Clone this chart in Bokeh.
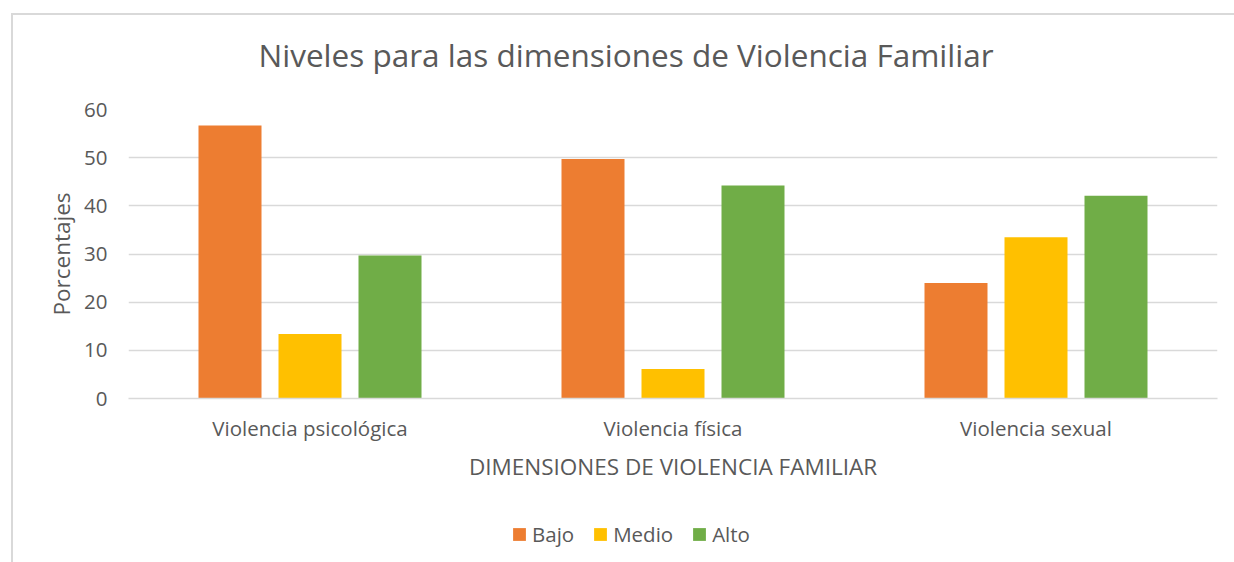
from bokeh.plotting import figure
from bokeh.layouts import column
from bokeh.models import FactorRange, Legend, LegendItem, FixedTicker, Label
from bokeh.transform import dodge
from bokeh.embed import file_html
from bokeh.resources import INLINE

categories = ["Violencia psicológica", "Violencia física", "Violencia sexual"]
series = ["Bajo", "Medio", "Alto"]
bajo = [56.7, 49.7, 24.0]
medio = [13.4, 6.1, 33.5]
alto = [29.7, 44.2, 42.1]
colors = ["#ED7D31", "#FFC000", "#70AD47"]
y_ticks = [0, 10, 20, 30, 40, 50, 60]
title_text = "Niveles para las dimensiones de Violencia Familiar"

FONT = "Open Sans"
TXT = "#595959"
GRID = "#d9d9d9"
W = 1221

# title strip (frame aligned with the chart's frame; x range in page pixels)
tf = figure(x_range=(128, 1217), y_range=(0, 80), width=W, height=80,
            output_backend="svg", toolbar_location=None,
            x_axis_location=None, y_axis_location=None, min_border=0)
tf.grid.visible = False
tf.outline_line_color = None
tf.add_layout(Label(x=258, y=41, text=title_text, text_font=FONT, text_font_size="31.5px",
                    text_color=TXT, text_align="left", text_baseline="middle"))

# main chart
p = figure(x_range=FactorRange(*categories), y_range=(0, 60),
           width=W, height=410, output_backend="svg", toolbar_location=None,
           min_border_left=115, min_border_right=17, min_border_top=14, min_border_bottom=107)
p.outline_line_color = None

data = dict(cat=categories, Bajo=bajo, Medio=medio, Alto=alto)
offsets = [-80 / 363, 0, 80 / 363]
for s, off, c in zip(series, offsets, colors):
    p.vbar(x=dodge("cat", off, range=p.x_range), top=s, width=63 / 363,
           source=data, fill_color=c, line_color=None)

p.yaxis.ticker = FixedTicker(ticks=y_ticks)
p.ygrid.grid_line_color = GRID
p.ygrid.grid_line_width = 1.5
p.xgrid.grid_line_color = None

for ax in (p.xaxis, p.yaxis):
    ax.major_tick_line_color = None
    ax.minor_tick_line_color = None
    ax.major_label_text_font = FONT
    ax.major_label_text_color = TXT
    ax.major_label_text_font_size = "20.5px"
    ax.axis_label_text_font = FONT
    ax.axis_label_text_color = TXT
    ax.axis_label_text_font_size = "22.5px"
    ax.axis_label_text_font_style = "normal"

p.yaxis.axis_line_color = None
p.yaxis.major_label_standoff = 15
p.yaxis.axis_label = "Porcentajes"
p.yaxis.axis_label_standoff = 4

p.xaxis.axis_line_color = GRID
p.xaxis.axis_line_width = 1.5
p.xaxis.major_label_standoff = 9
p.xaxis.axis_label = "DIMENSIONES DE VIOLENCIA FAMILIAR"
p.xaxis.axis_label_standoff = 6

# legend strip below the chart
lg = figure(x_range=(0, 1), y_range=(0, 1), width=W, height=57,
            output_backend="svg", toolbar_location=None,
            x_axis_location=None, y_axis_location=None, min_border=0)
lg.grid.visible = False
lg.outline_line_color = None
items = []
for s, c in zip(series, colors):
    r = lg.vbar(x=[0.5], top=[0], width=0.1, fill_color=c, line_color=None)
    items.append(LegendItem(label=s, renderers=[r]))
legend = Legend(items=items, orientation="horizontal", location=(383, 14),
                label_text_font=FONT, label_text_font_size="20.5px", label_text_color=TXT,
                glyph_width=16, glyph_height=16, spacing=18, label_standoff=5,
                padding=0, margin=0, border_line_color=None, background_fill_alpha=0)
lg.add_layout(legend)

layout = column(tf, p, lg, spacing=0,
                styles={"border-left": "2px solid #d9d9d9", "border-top": "2px solid #d9d9d9",
                        "margin-left": "11px", "margin-top": "13px"})

open("out.html", "w").write(file_html(layout, INLINE))
